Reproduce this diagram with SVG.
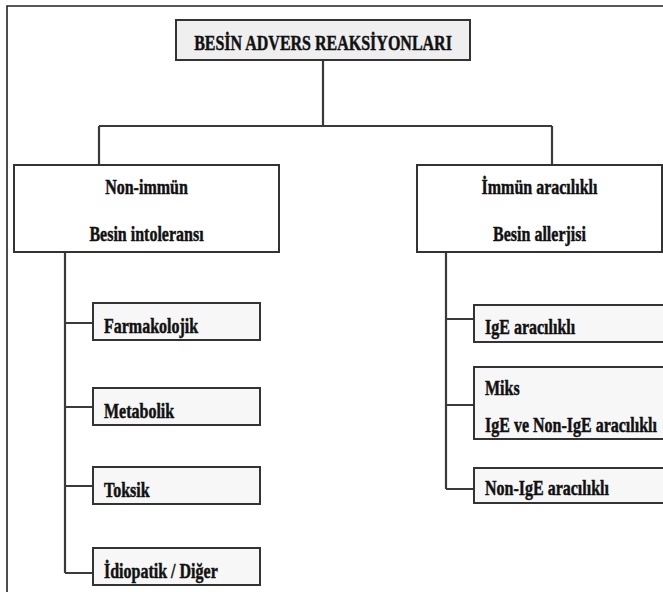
<svg xmlns="http://www.w3.org/2000/svg" width="663" height="592" viewBox="0 0 663 592">
<style>
.t{font-family:"Liberation Serif","Times New Roman",serif;font-weight:bold;font-size:16px;fill:#111;stroke:#111;stroke-width:0.35}
.c{text-anchor:middle}
.box{fill:#fff;stroke:#333;stroke-width:2}
.top{fill:#efefef}
.leaf{fill:#f7f7f7}
.ln{fill:none;stroke:#3a3a3a;stroke-width:2.2}
.frame{fill:none;stroke:#222;stroke-width:1.6}
</style>
<path class="frame" d="M7,592 V6 H663"/>
<g id="connectors">
<path class="ln" d="M323,60 V126 M99,126 H552 M99,126 V165 M552,126 V165"/>
<path class="ln" d="M65,252 V573 M65,323 H93 M65,407 H93 M65,486 H93 M65,573 H93"/>
<path class="ln" d="M446,252 V489 M446,319 H474 M446,405 H474 M446,489 H474"/>
</g>
<g id="root"><rect class="box top" x="176" y="20" width="294" height="40"/>
<text class="t c" transform="translate(323,50) scale(1,1.3)">BESİN ADVERS REAKSİYONLARI</text></g>
<g id="nonimmun"><rect class="box" x="14" y="165" width="265" height="87"/>
<text class="t c" transform="translate(146.5,194) scale(1,1.35)">Non-immün</text>
<text class="t c" transform="translate(146.5,241) scale(1,1.35)">Besin intoleransı</text></g>
<g id="immun"><rect class="box" x="417" y="165" width="245" height="87"/>
<text class="t c" transform="translate(539.5,194) scale(1,1.35)">İmmün aracılıklı</text>
<text class="t c" transform="translate(539.5,241) scale(1,1.35)">Besin allerjisi</text></g>
<g id="farmakolojik"><rect class="box leaf" x="93" y="303" width="167" height="37"/>
<text class="t" transform="translate(104,333) scale(1,1.35)">Farmakolojik</text></g>
<g id="metabolik"><rect class="box leaf" x="93" y="388" width="167" height="37"/>
<text class="t" transform="translate(104,418) scale(1,1.35)">Metabolik</text></g>
<g id="toksik"><rect class="box leaf" x="93" y="467" width="167" height="37"/>
<text class="t" transform="translate(104,497) scale(1,1.35)">Toksik</text></g>
<g id="idiopatik"><rect class="box leaf" x="93" y="548" width="167" height="37"/>
<text class="t" transform="translate(104,578) scale(1,1.35)">İdiopatik / Diğer</text></g>
<g id="ige"><rect class="box leaf" x="474" y="305" width="190" height="37"/>
<text class="t" transform="translate(485,334) scale(1,1.35)">IgE aracılıklı</text></g>
<g id="miks"><rect class="box leaf" x="474" y="367" width="190" height="72"/>
<text class="t" transform="translate(485,395) scale(1,1.35)">Miks</text>
<text class="t" transform="translate(485,432) scale(1,1.35)">IgE ve Non-IgE aracılıklı</text></g>
<g id="nonige"><rect class="box leaf" x="474" y="468" width="190" height="35"/>
<text class="t" transform="translate(485,495) scale(1,1.35)">Non-IgE aracılıklı</text></g>
</svg>
